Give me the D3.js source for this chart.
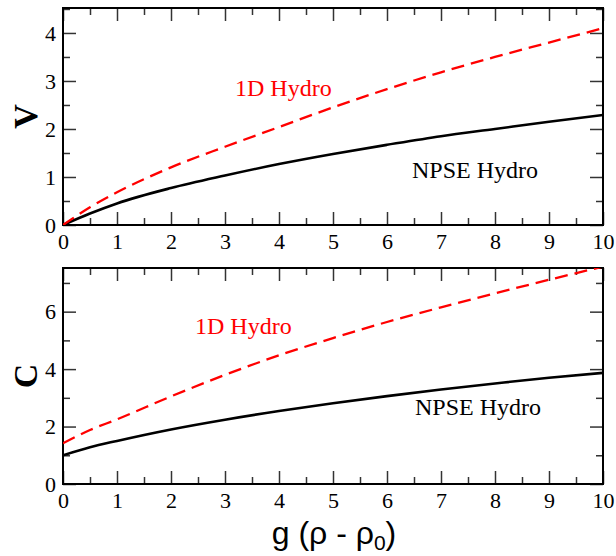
<!DOCTYPE html>
<html>
<head>
<meta charset="utf-8">
<script src="https://cdn.jsdelivr.net/npm/d3@7"></script>
<style>
  body { margin: 0; background: #fff; }
  svg { display: block; }
  .serif { font-family: "Liberation Serif", "Times New Roman", serif; }
</style>
</head>
<body>
<div id="plot"></div>
<script>
// values
const gVals   = [0, 0.5, 1, 2, 3, 4, 5, 6, 7, 8, 9, 10];
const vNpse   = [0, 0.24, 0.45, 0.77, 1.03, 1.27, 1.48, 1.67, 1.85, 2.0, 2.15, 2.29];
const vHydro  = [0, 0.37, 0.68, 1.2, 1.63, 2.04, 2.45, 2.83, 3.18, 3.5, 3.8, 4.1];
const cNpse   = [1.0, 1.28, 1.5, 1.9, 2.24, 2.54, 2.81, 3.06, 3.29, 3.5, 3.7, 3.87];
const cHydro  = [1.42, 1.88, 2.25, 3.05, 3.8, 4.48, 5.08, 5.64, 6.15, 6.64, 7.11, 7.57];

const xTicks = d3.range(0, 11, 1);
const width = 616, height = 556;
const left = 63, right = 603;

const svg = d3.select("#plot").append("svg")
    .attr("width", width)
    .attr("height", height);

const x = d3.scaleLinear().domain([0, 10]).range([left, right]);

function drawPanel(opt) {
    const y = d3.scaleLinear().domain([0, opt.yMax]).range([opt.bottom, opt.top]);
    const g = svg.append("g");

    const clipId = "clip-" + opt.id;
    svg.append("defs").append("clipPath").attr("id", clipId)
        .append("rect")
        .attr("x", left).attr("y", opt.top)
        .attr("width", right - left).attr("height", opt.bottom - opt.top);

    const style = sel => {
        sel.attr("font-family", null).attr("font-size", null).classed("serif", true);
        sel.select(".domain").remove();
        sel.selectAll(".tick line").attr("stroke", "#333").attr("stroke-width", 1.5);
        sel.selectAll("text")
            .style("font-family", '"Liberation Serif", "Times New Roman", serif')
            .style("font-size", "22px").attr("fill", "#000");
    };

    // major ticks, all four sides, pointing inward
    g.append("g").attr("transform", `translate(0,${opt.bottom})`)
        .call(d3.axisBottom(x).tickValues(xTicks).tickSize(-13).tickPadding(8).tickFormat(d3.format("d")))
        .call(style);
    g.append("g").attr("transform", `translate(0,${opt.top})`)
        .call(d3.axisTop(x).tickValues(xTicks).tickSize(-13).tickFormat(""))
        .call(style);
    g.append("g").attr("transform", `translate(${left},0)`)
        .call(d3.axisLeft(y).tickValues(opt.yTicks).tickSize(-13).tickPadding(7).tickFormat(d3.format("d")))
        .call(style);
    g.append("g").attr("transform", `translate(${right},0)`)
        .call(d3.axisRight(y).tickValues(opt.yTicks).tickSize(-13).tickFormat(""))
        .call(style);

    // minor ticks
    const xMinor = d3.range(0.5, 10, 1);
    g.append("g").attr("transform", `translate(0,${opt.bottom})`)
        .call(d3.axisBottom(x).tickValues(xMinor).tickSize(-7).tickFormat(""))
        .call(style);
    g.append("g").attr("transform", `translate(0,${opt.top})`)
        .call(d3.axisTop(x).tickValues(xMinor).tickSize(-7).tickFormat(""))
        .call(style);
    g.append("g").attr("transform", `translate(${left},0)`)
        .call(d3.axisLeft(y).tickValues(opt.yMinor).tickSize(-7).tickFormat(""))
        .call(style);
    g.append("g").attr("transform", `translate(${right},0)`)
        .call(d3.axisRight(y).tickValues(opt.yMinor).tickSize(-7).tickFormat(""))
        .call(style);

    // frame
    g.append("rect")
        .attr("x", left).attr("y", opt.top)
        .attr("width", right - left).attr("height", opt.bottom - opt.top)
        .attr("fill", "none").attr("stroke", "#000").attr("stroke-width", 2);

    const line = vals => d3.line()
        .x((d, i) => x(gVals[i]))
        .y(d => y(d))
        .curve(d3.curveMonotoneX)(vals);

    const curves = g.append("g").attr("clip-path", `url(#${clipId})`);
    curves.append("path")
        .attr("d", line(opt.npse))
        .attr("fill", "none").attr("stroke", "#000").attr("stroke-width", 2.6);
    curves.append("path")
        .attr("d", line(opt.hydro))
        .attr("fill", "none").attr("stroke", "#ff0000").attr("stroke-width", 2.3)
        .attr("stroke-dasharray", "13,7");

    // curve labels
    g.append("text").attr("class", "serif")
        .attr("x", opt.hydroLabel[0]).attr("y", opt.hydroLabel[1])
        .style("font-size", "24px").attr("fill", "#ff0000")
        .text("1D Hydro");
    g.append("text").attr("class", "serif")
        .attr("x", opt.npseLabel[0]).attr("y", opt.npseLabel[1])
        .style("font-size", "24px").attr("fill", "#000")
        .text("NPSE Hydro");

    // y axis title
    g.append("text").attr("class", "serif")
        .attr("transform", `translate(37,${(opt.top + opt.bottom) / 2}) rotate(-90)`)
        .attr("text-anchor", "middle")
        .style("font-size", "34px").style("font-weight", "bold")
        .text(opt.title);
}

drawPanel({
    id: "v", top: 8, bottom: 225, yMax: 4.52,
    yTicks: [0, 1, 2, 3, 4], yMinor: [0.5, 1.5, 2.5, 3.5, 4.5],
    npse: vNpse, hydro: vHydro, title: "V",
    hydroLabel: [235, 96], npseLabel: [412, 178]
});

drawPanel({
    id: "c", top: 268, bottom: 484, yMax: 7.52,
    yTicks: [0, 2, 4, 6], yMinor: [1, 3, 5, 7],
    npse: cNpse, hydro: cHydro, title: "C",
    hydroLabel: [195, 334], npseLabel: [415, 415]
});

// x axis title
const xl = svg.append("text")
    .attr("x", 334)
    .attr("y", 544)
    .attr("text-anchor", "middle")
    .style("font-family", '"Liberation Sans", Arial, sans-serif')
    .style("font-size", "32px");
xl.append("tspan").text("g (\u03c1 - \u03c1");
xl.append("tspan").style("font-size", "21px").attr("dy", 6).text("0");
xl.append("tspan").attr("dy", -6).text(")");
</script>
</body>
</html>
